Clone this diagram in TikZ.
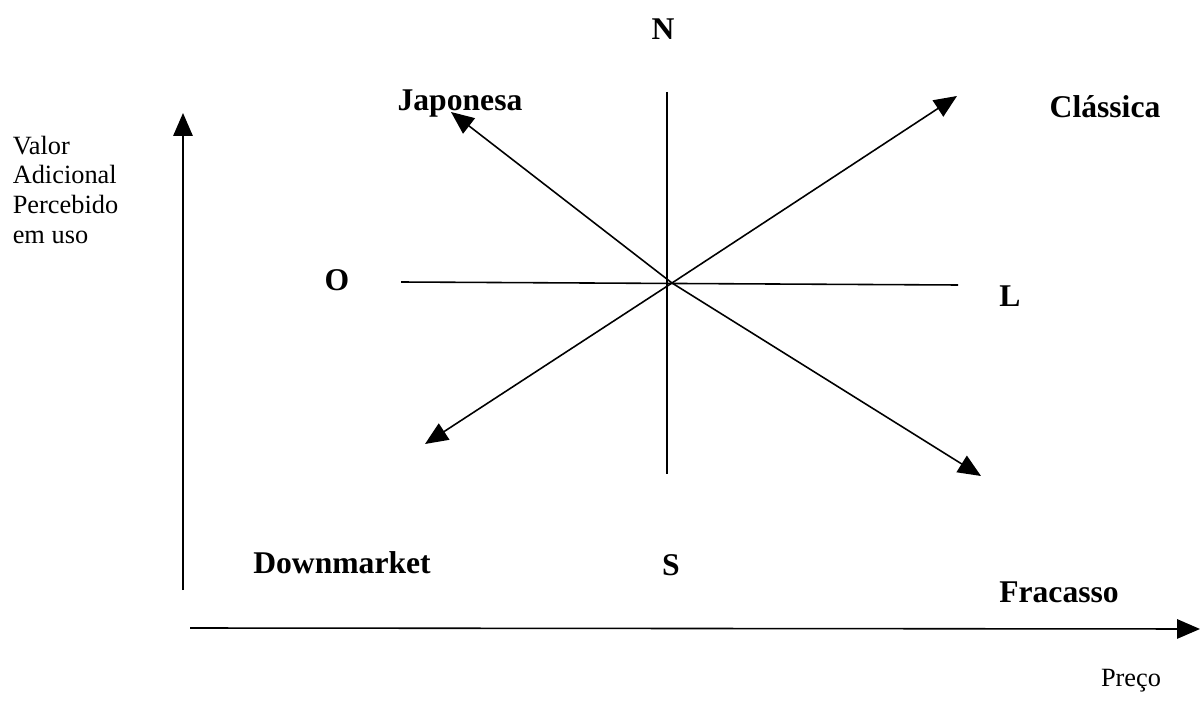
\documentclass[tikz,border=0pt]{standalone}
\usepackage{fontspec}
\setmainfont{Liberation Serif}
\usetikzlibrary{arrows.meta}

\begin{document}
\begin{tikzpicture}[x=0.02cm, y=-0.02cm, line width=0.9pt, >={Triangle[length=13pt,width=11pt]},
	every node/.style={font=\fontsize{15}{17}\selectfont}, lab/.style={font=\fontsize{18}{18}\selectfont\bfseries}]
	\useasboundingbox (0,0) rectangle (1200,702);
	% axes
	\coordinate (yb) at (183,590);
	\coordinate (yt) at (183,113);
	\coordinate (xl) at (190,628);
	\coordinate (xr) at (1200,629);
	\draw[->] (yb) -- (yt);
	\draw[->] (xl) -- (xr);
	\node[align=left, anchor=north west, inner sep=0pt] (valor) at (12,135) {Valor\\Adicional\\Percebido\\em uso};
	\node (preco) at (1131,681) {Preço};
	% cross
	\coordinate (c) at (672,283);
	\coordinate (n) at (667,92);
	\coordinate (s) at (667,474);
	\coordinate (o) at (401,282);
	\coordinate (l) at (958,285);
	\draw (n) -- (s);
	\draw (o) -- (l);
	\coordinate (ne) at (957,96);
	\coordinate (nw) at (451,112);
	\coordinate (sw) at (425,444);
	\coordinate (se) at (981,476);
	\draw[->] (c) -- (ne);
	\draw[->] (c) -- (nw);
	\draw[->] (c) -- (sw);
	\draw[->] (c) -- (se);
	% labels
	\node[lab] (lN) at (663,29) {N};
	\node[lab] (lS) at (671,565) {S};
	\node[lab] (lO) at (337,280) {O};
	\node[lab] (lL) at (1010,296) {L};
	\node[lab] (jap) at (460,104) {Japonesa};
	\node[lab] (cla) at (1105,107) {Clássica};
	\node[lab] (down) at (342,563) {Downmarket};
	\node[lab] (frac) at (1059,592) {Fracasso};
\end{tikzpicture}
\end{document}
